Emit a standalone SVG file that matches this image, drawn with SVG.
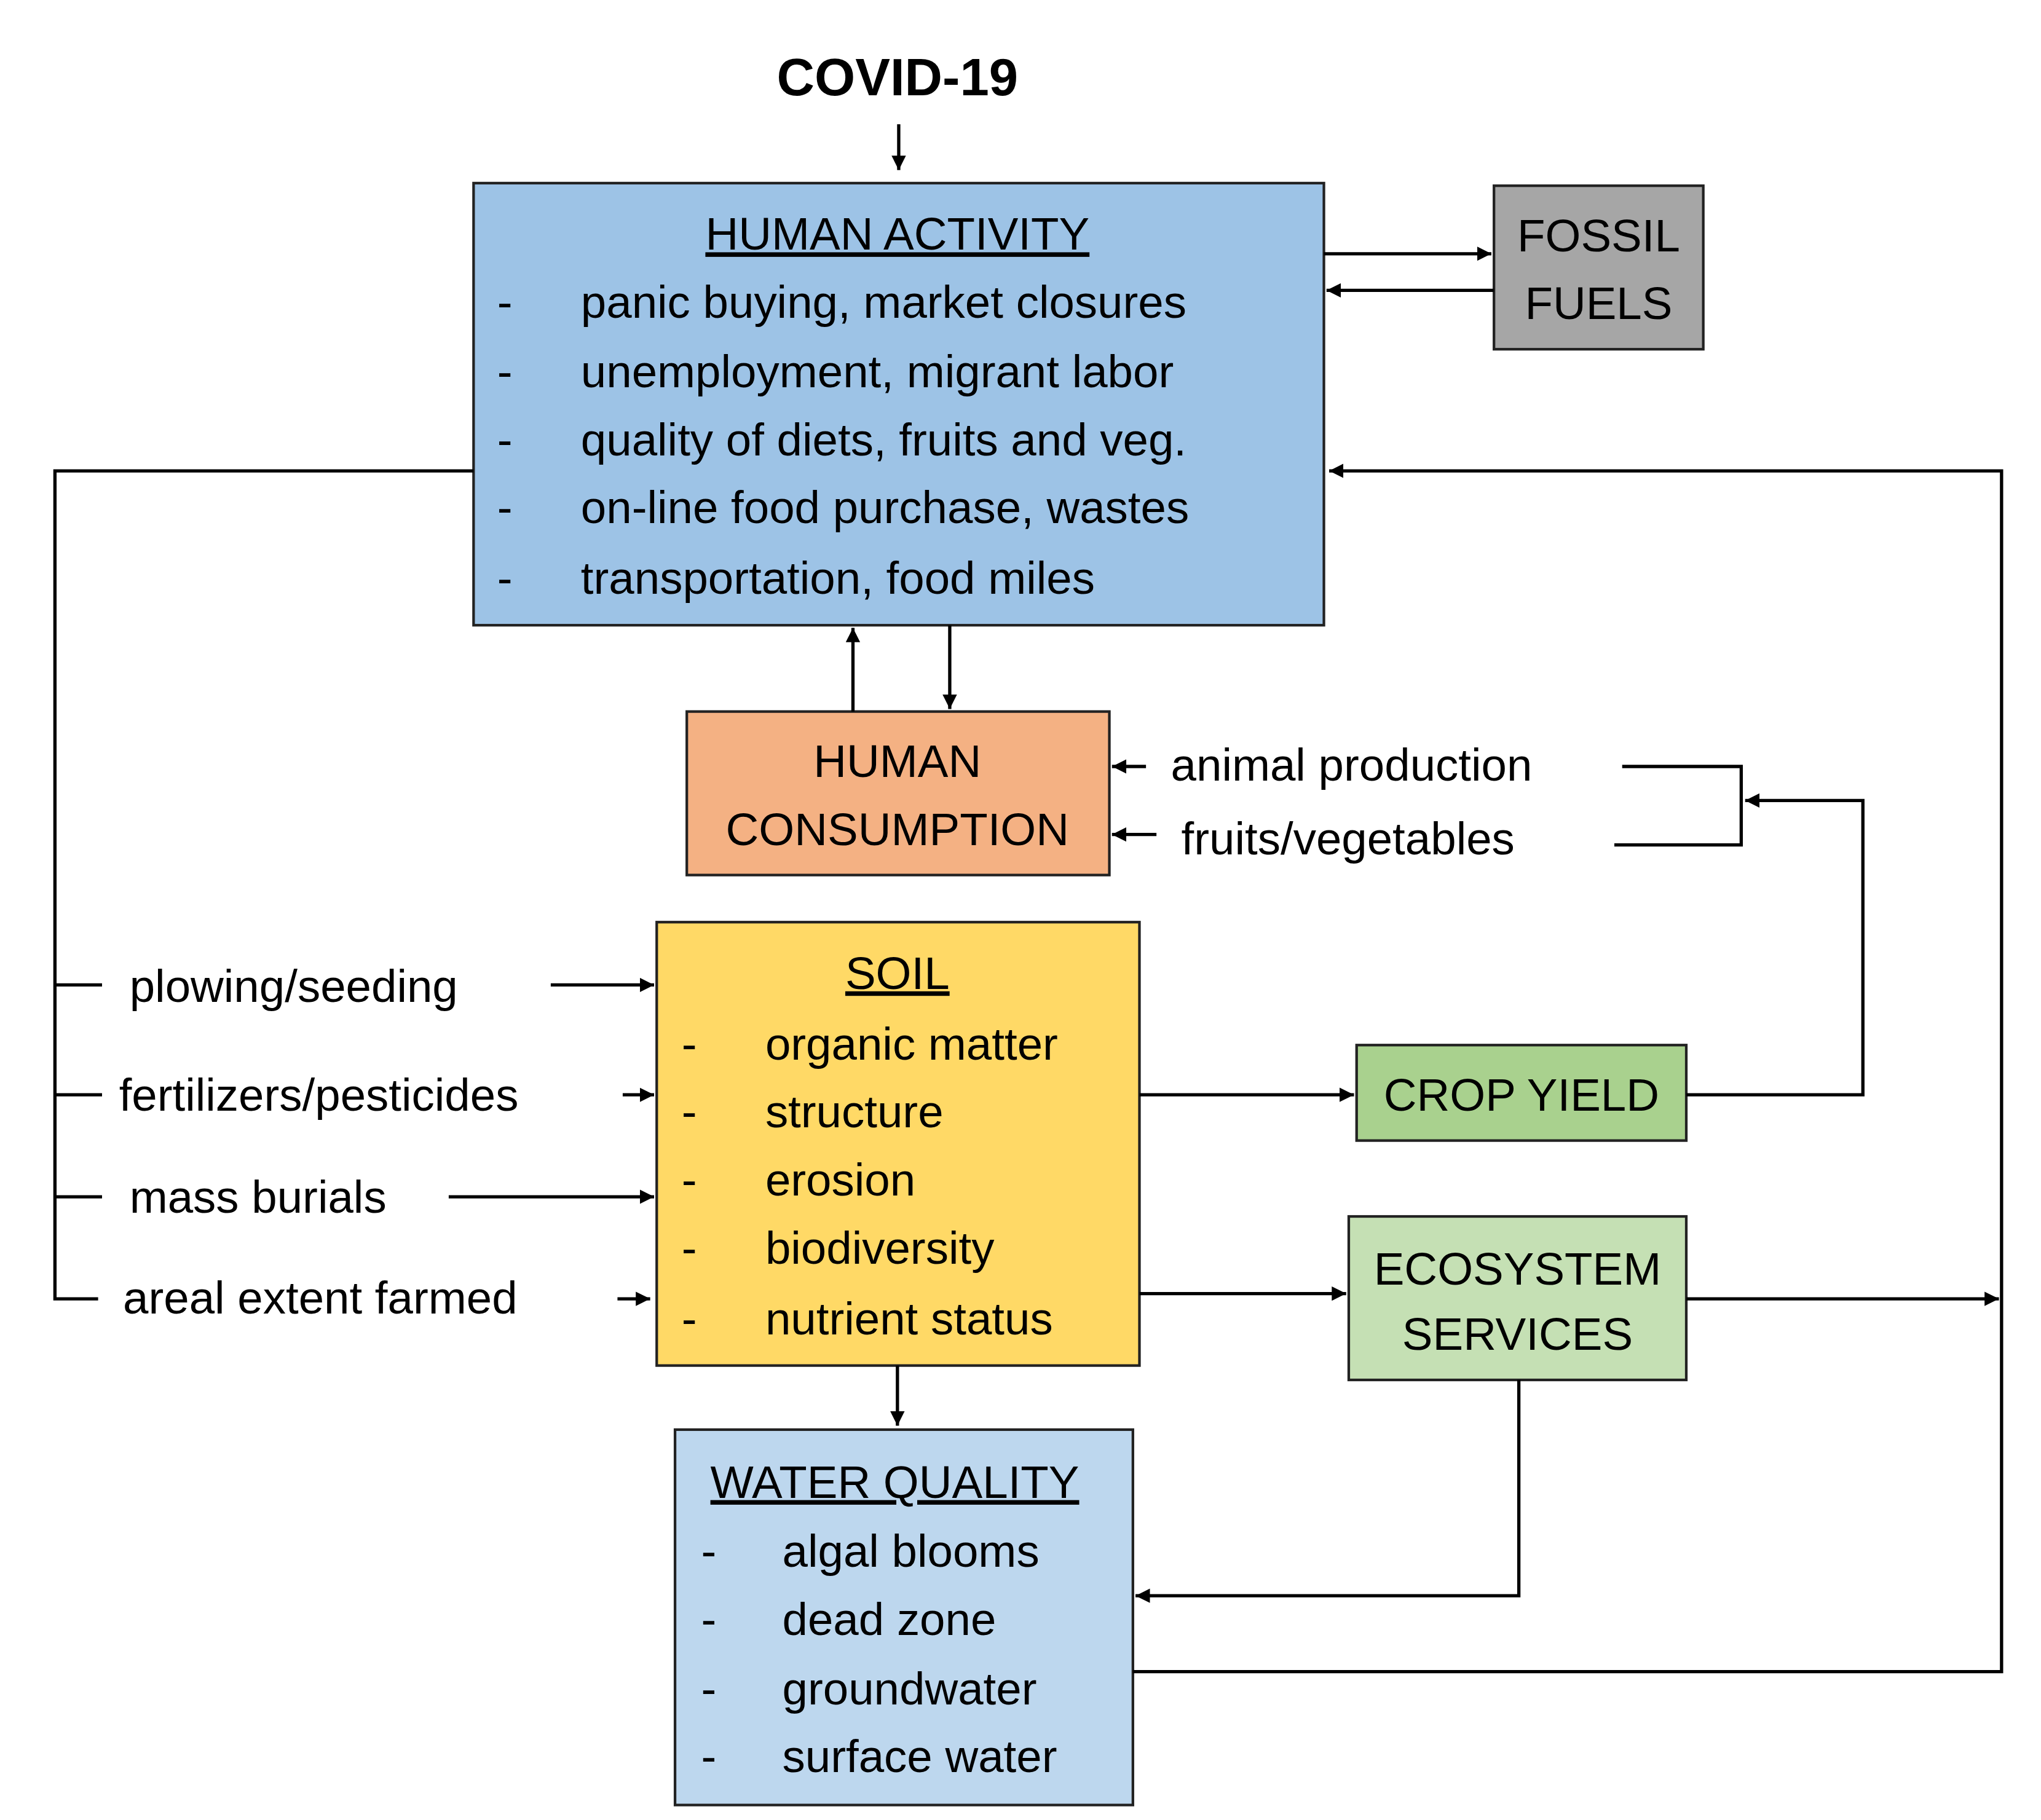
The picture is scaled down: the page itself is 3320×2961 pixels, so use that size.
<svg xmlns="http://www.w3.org/2000/svg" width="3320" height="2961" viewBox="0 0 3320 2961">
<defs>
<marker id="ah" viewBox="0 0 10 10" refX="10" refY="5" markerWidth="11" markerHeight="11" markerUnits="userSpaceOnUse" orient="auto"><path d="M0,0 L10,5 L0,10 z" fill="#000"/></marker>
<style>
text{font-family:"Liberation Sans",Arial,sans-serif;font-size:35px;fill:#000}
.c{text-anchor:middle}
.u{text-decoration:underline}
.box{stroke:#222;stroke-width:2}
.ln{fill:none;stroke:#000;stroke-width:2.5}
.ar{fill:none;stroke:#000;stroke-width:2.5;marker-end:url(#ah)}
</style>
</defs>
<rect width="3320" height="2961" fill="#fff"/>
<g transform="scale(2.128)">
<g id="covid"><text x="686" y="73" class="c" style="font-weight:bold;font-size:40px">COVID-19</text></g>
<g id="human-activity">
<rect x="362" y="140" width="650" height="338" fill="#9dc3e6" class="box"/>
<text x="686" y="191" class="c u">HUMAN ACTIVITY</text>
<text x="380" y="243">-</text><text x="444" y="243">panic buying, market closures</text>
<text x="380" y="296">-</text><text x="444" y="296">unemployment, migrant labor</text>
<text x="380" y="348">-</text><text x="444" y="348">quality of diets, fruits and veg.</text>
<text x="380" y="400">-</text><text x="444" y="400">on-line food purchase, wastes</text>
<text x="380" y="454">-</text><text x="444" y="454">transportation, food miles</text>
</g>
<g id="fossil-fuels">
<rect x="1142" y="142" width="160" height="125" fill="#a6a6a6" class="box"/>
<text x="1222" y="192" class="c">FOSSIL</text><text x="1222" y="244" class="c">FUELS</text>
</g>
<g id="human-consumption">
<rect x="525" y="544" width="323" height="125" fill="#f4b183" class="box"/>
<text x="686" y="594" class="c">HUMAN</text><text x="686" y="646" class="c">CONSUMPTION</text>
</g>
<g id="soil">
<rect x="502" y="705" width="369" height="339" fill="#ffd966" class="box"/>
<text x="686" y="756" class="c u">SOIL</text>
<text x="521" y="810">-</text><text x="585" y="810">organic matter</text>
<text x="521" y="862">-</text><text x="585" y="862">structure</text>
<text x="521" y="914">-</text><text x="585" y="914">erosion</text>
<text x="521" y="966">-</text><text x="585" y="966">biodiversity</text>
<text x="521" y="1020">-</text><text x="585" y="1020">nutrient status</text>
</g>
<g id="crop-yield">
<rect x="1037" y="799" width="252" height="73" fill="#a9d18e" class="box"/>
<text x="1163" y="849" class="c">CROP YIELD</text>
</g>
<g id="ecosystem-services">
<rect x="1031" y="930" width="258" height="125" fill="#c5e0b4" class="box"/>
<text x="1160" y="982" class="c">ECOSYSTEM</text><text x="1160" y="1032" class="c">SERVICES</text>
</g>
<g id="water-quality">
<rect x="516" y="1093" width="350" height="287" fill="#bdd7ee" class="box"/>
<text x="684" y="1145" class="c u">WATER QUALITY</text>
<text x="536" y="1198">-</text><text x="598" y="1198">algal blooms</text>
<text x="536" y="1250">-</text><text x="598" y="1250">dead zone</text>
<text x="536" y="1303">-</text><text x="598" y="1303">groundwater</text>
<text x="536" y="1355">-</text><text x="598" y="1355">surface water</text>
</g>
<g id="labels">
<text x="895" y="597">animal production</text>
<text x="903" y="653">fruits/vegetables</text>
<text x="99" y="766">plowing/seeding</text>
<text x="91" y="849">fertilizers/pesticides</text>
<text x="99" y="927">mass burials</text>
<text x="94" y="1004">areal extent farmed</text>
</g>
<g id="connectors">
<line x1="687" y1="95" x2="687" y2="130" class="ar"/>
<line x1="1012" y1="194" x2="1140" y2="194" class="ar"/>
<line x1="1142" y1="222" x2="1014" y2="222" class="ar"/>
<line x1="652" y1="544" x2="652" y2="480" class="ar"/>
<line x1="726" y1="478" x2="726" y2="542" class="ar"/>
<line x1="876" y1="586" x2="850" y2="586" class="ar"/>
<line x1="884" y1="638" x2="850" y2="638" class="ar"/>
<polyline points="1240,586 1331,586 1331,646 1234,646" class="ln"/>
<polyline points="1289,837 1424,837 1424,612 1334,612" class="ar"/>
<polyline points="362,360 42,360 42,993 75,993" class="ln"/>
<line x1="42" y1="753" x2="78" y2="753" class="ln"/>
<line x1="42" y1="837" x2="78" y2="837" class="ln"/>
<line x1="42" y1="915" x2="78" y2="915" class="ln"/>
<line x1="421" y1="753" x2="500" y2="753" class="ar"/>
<line x1="476" y1="837" x2="500" y2="837" class="ar"/>
<line x1="343" y1="915" x2="500" y2="915" class="ar"/>
<line x1="472" y1="993" x2="497" y2="993" class="ar"/>
<line x1="871" y1="837" x2="1035" y2="837" class="ar"/>
<line x1="871" y1="989" x2="1029" y2="989" class="ar"/>
<line x1="1289" y1="993" x2="1528" y2="993" class="ar"/>
<polyline points="866,1278 1530,1278 1530,360 1016,360" class="ar"/>
<line x1="686" y1="1044" x2="686" y2="1090" class="ar"/>
<polyline points="1161,1055 1161,1220 868,1220" class="ar"/>
</g>
</g>
</svg>
